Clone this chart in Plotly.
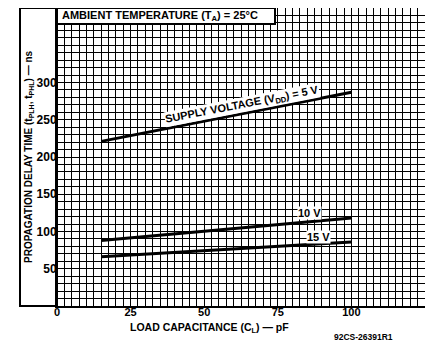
import plotly.graph_objects as go

# Data
load_cap_pF = [15, 100]
delay_5V = [221, 287]
delay_10V = [88, 118]
delay_15V = [66, 86]
x_tick_vals = [0, 25, 50, 75, 100]
y_tick_vals = [50, 100, 150, 200, 250, 300]

FONT = "Liberation Sans"
PW, PH = 368, 298  # plot area size in px
fig = go.Figure()
for ys in (delay_5V, delay_10V, delay_15V):
    fig.add_trace(go.Scatter(x=load_cap_pF, y=ys, mode="lines",
                             line=dict(color="black", width=3), showlegend=False,
                             hoverinfo="skip"))

fig.update_layout(
    width=425, height=336,
    margin=dict(l=49, r=8, t=0, b=38, autoexpand=False),
    paper_bgcolor="white", plot_bgcolor="white",
    font=dict(family=FONT, color="black", size=11, weight="bold"),
    xaxis=dict(range=[0, 125], tickmode="array", tickvals=x_tick_vals,
               ticktext=[str(v) for v in x_tick_vals],
               showgrid=True, gridcolor="black", gridwidth=1.4,
               minor=dict(dtick=2.5, showgrid=True, gridcolor="black", gridwidth=1.4),
               zeroline=False, showline=True, linecolor="black", linewidth=2, mirror=True,
               ticks="", ticklabelstandoff=-5, automargin=False,
               tickfont=dict(size=11, family=FONT, weight="bold")),
    yaxis=dict(range=[0, 400], tickmode="array", tickvals=y_tick_vals,
               ticktext=[str(v) for v in y_tick_vals],
               showgrid=True, gridcolor="black", gridwidth=1.4,
               minor=dict(dtick=10, showgrid=True, gridcolor="black", gridwidth=1.4),
               zeroline=False, showline=True, linecolor="black", linewidth=2, mirror=True,
               ticks="", ticklabelstandoff=-4, automargin=False,
               tickfont=dict(size=12, family=FONT, weight="bold")),
)

# left label box
fig.add_shape(type="rect", xref="paper", yref="paper", x0=-37/PW, x1=0, y0=0, y1=1,
              line=dict(color="black", width=2), fillcolor="rgba(0,0,0,0)", layer="above")
# title box
fig.add_shape(type="rect", xref="paper", yref="paper", x0=0, x1=218/PW, y0=1-16/PH, y1=1,
              line=dict(color="black", width=2), fillcolor="white", layer="above")
fig.add_annotation(xref="paper", yref="paper", x=3/PW, y=1-8/PH, xanchor="left", yanchor="middle",
                   text="AMBIENT TEMPERATURE (T<sub>A</sub>) = 25°C", showarrow=False,
                   font=dict(size=11, family=FONT, weight="bold"))

fig.add_annotation(x=62.8, y=270, text="SUPPLY VOLTAGE (V<sub>DD</sub>) = 5 V", showarrow=False,
                   textangle=-11, bgcolor="white", borderpad=0,
                   font=dict(size=11, family=FONT, weight="bold"))
fig.add_annotation(x=85.9, y=125, text="10 V", showarrow=False, bgcolor="white", borderpad=0,
                   font=dict(size=11, family=FONT, weight="bold"))
fig.add_annotation(x=88.7, y=93, text="15 V", showarrow=False, bgcolor="white", borderpad=0,
                   font=dict(size=11, family=FONT, weight="bold"))

fig.add_annotation(xref="paper", yref="paper", x=-28/PW, y=0.5, textangle=-90,
                   xanchor="center", yanchor="middle",
                   text="PROPAGATION DELAY TIME (t<sub>PLH</sub>, t<sub>PHL</sub>) — ns",
                   showarrow=False, font=dict(size=10, family=FONT, weight="bold"))
fig.add_annotation(xref="paper", yref="paper", x=152/PW, y=-22/PH,
                   xanchor="center", yanchor="middle",
                   text="LOAD CAPACITANCE (C<sub>L</sub>) — pF", showarrow=False,
                   font=dict(size=10.5, family=FONT, weight="bold"))
fig.add_annotation(xref="paper", yref="paper", x=306/PW, y=-31/PH,
                   xanchor="center", yanchor="middle",
                   text="92CS-26391R1", showarrow=False,
                   font=dict(size=8.5, family=FONT, weight="bold"))

fig.write_html("out.html")
